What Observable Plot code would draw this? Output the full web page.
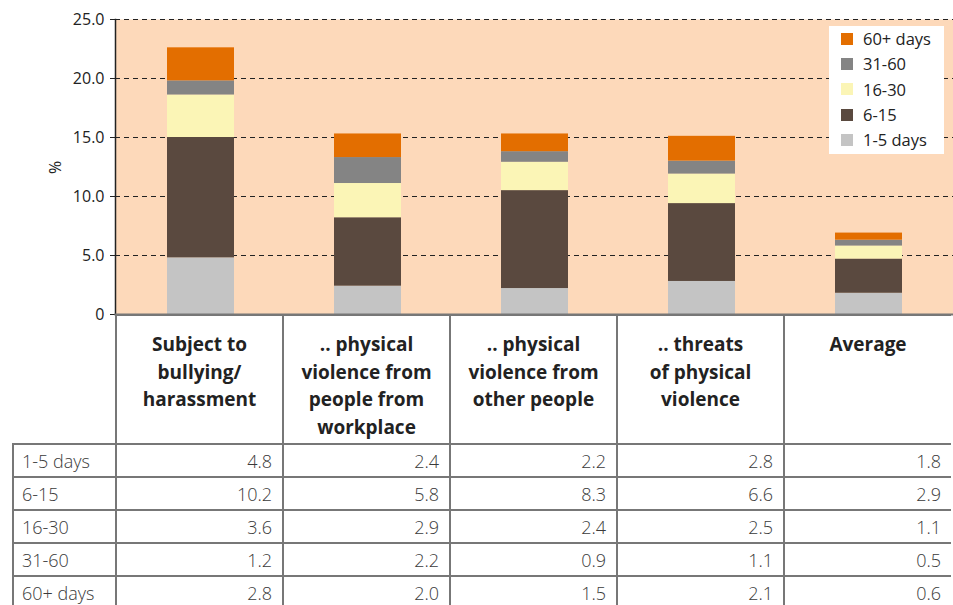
<!DOCTYPE html>
<html><head><meta charset="utf-8">
<script src="https://cdn.jsdelivr.net/npm/d3@7"></script>
<script src="https://cdn.jsdelivr.net/npm/@observablehq/plot@0.6"></script>
<style>
body{margin:0;background:#fff;font-family:"Open Sans",sans-serif;color:#333;}
#wrap{position:relative;width:953px;height:605px;overflow:hidden;}
#legend{position:absolute;left:829px;top:26px;width:115px;height:128px;background:#fff;box-sizing:border-box;padding:0 0 0 12px;}
#legend .item{display:flex;align-items:center;height:25.3px;font-size:16.5px;color:#222;}
#legend .sw{width:12px;height:12px;margin-right:10px;flex:none;}
#tbl{position:absolute;top:314px;left:12px;border-collapse:collapse;table-layout:fixed;}
#tbl th{font-weight:700;font-size:19px;line-height:27.5px;color:#222;vertical-align:top;padding:15px 4px 0 4px;height:112px;white-space:pre-line;text-align:center;border-left:2px solid #777;border-top:2px solid #777;border-bottom:2px solid #777;}
#tbl th.corner{border-left:none;border-top:none;}
#tbl td{font-size:18px;font-weight:300;color:#3a3a3a;height:31px;padding:0 10px 0 8px;border:2px solid #777;text-align:right;}
#tbl td.lab{text-align:left;}
#tbl td.last, #tbl th.last{border-right:none;}
</style></head><body><div id="wrap"></div>
<script>
const categories = ["Subject to\nbullying/\nharassment", ".. physical\nviolence from\npeople from\nworkplace", ".. physical\nviolence from\nother people", ".. threats\nof physical\nviolence", "Average"];
const series = ["1-5 days", "6-15", "16-30", "31-60", "60+ days"];
const colors = ["#C4C4C4", "#5A493F", "#FBF5B6", "#848484", "#E36E00"];
const days1to5 = [4.8, 2.4, 2.2, 2.8, 1.8];
const days6to15 = [10.2, 5.8, 8.3, 6.6, 2.9];
const days16to30 = [3.6, 2.9, 2.4, 2.5, 1.1];
const days31to60 = [1.2, 2.2, 0.9, 1.1, 0.5];
const days60plus = [2.8, 2.0, 1.5, 2.1, 0.6];
const yTicks = [0, 5, 10, 15, 20, 25];

const values = [days1to5, days6to15, days16to30, days31to60, days60plus];
const rows = series.flatMap((s, i) => categories.map((c, j) => ({cat: c, series: s, value: values[i][j]})));
const tickFmt = d => d === 0 ? "0" : d.toFixed(1);

const plot = Plot.plot({
  width: 953, height: 315,
  marginTop: 19, marginBottom: 1, marginLeft: 115, marginRight: 0,
  style: {fontFamily: "Open Sans, sans-serif", fontSize: "16px", color: "#222", background: "transparent", overflow: "visible"},
  x: {domain: categories, padding: 0, axis: null},
  y: {domain: [0, 25], ticks: yTicks, tickFormat: tickFmt, label: null, axis: null},
  color: {domain: series, range: colors},
  marks: [
    Plot.frame({fill: "#FDD9BA", stroke: null}),
    Plot.ruleY(yTicks.filter(d => d > 0), {stroke: "#222", strokeWidth: 1, strokeDasharray: "5,4"}),
    Plot.barY(rows, {x: "cat", y: "value", fill: "series", insetLeft: 50, insetRight: 50}),
    Plot.axisY({ticks: yTicks, tickFormat: tickFmt, tickSize: 5, tickPadding: 6, fontSize: 16, label: null, stroke: "#222"}),
    Plot.text(["%"], {frameAnchor: "left", dx: -60, dy: 7, rotate: -90, fontSize: 16, fill: "#222"}),
    Plot.frame({anchor: "left", stroke: "#222", strokeWidth: 1.5}),
    Plot.frame({anchor: "bottom", stroke: "#777", strokeWidth: 2})
  ]
});
const wrap = document.getElementById("wrap");
wrap.appendChild(plot);

// legend
const lg = document.createElement("div");
lg.id = "legend";
series.slice().reverse().forEach(s => {
  const it = document.createElement("div");
  it.className = "item";
  const sw = document.createElement("span");
  sw.className = "sw";
  sw.style.background = colors[series.indexOf(s)];
  it.appendChild(sw);
  it.appendChild(document.createTextNode(s));
  lg.appendChild(it);
});
wrap.appendChild(lg);

// data table aligned to the x scale
const xs = plot.scale("x");
const bw = xs.bandwidth !== undefined ? xs.bandwidth : (xs.range[1] - xs.range[0]) / categories.length;
const firstLeft = xs.range[0];
const tbl = document.createElement("table");
tbl.id = "tbl";
const cg = document.createElement("colgroup");
const c0 = document.createElement("col"); c0.style.width = (firstLeft - 12) + "px"; cg.appendChild(c0);
categories.forEach(() => { const c = document.createElement("col"); c.style.width = bw + "px"; cg.appendChild(c); });
tbl.appendChild(cg);
const hr = document.createElement("tr");
const corner = document.createElement("th"); corner.className = "corner"; hr.appendChild(corner);
categories.forEach((c, j) => { const th = document.createElement("th"); th.textContent = c; if (j === categories.length - 1) th.className = "last"; hr.appendChild(th); });
tbl.appendChild(hr);
series.forEach((s, i) => {
  const tr = document.createElement("tr");
  const td0 = document.createElement("td"); td0.className = "lab"; td0.textContent = s; tr.appendChild(td0);
  values[i].forEach((v, j) => { const td = document.createElement("td"); td.textContent = v.toFixed(1); if (j === categories.length - 1) td.className = "last"; tr.appendChild(td); });
  tbl.appendChild(tr);
});
wrap.appendChild(tbl);
</script>
</body></html>
